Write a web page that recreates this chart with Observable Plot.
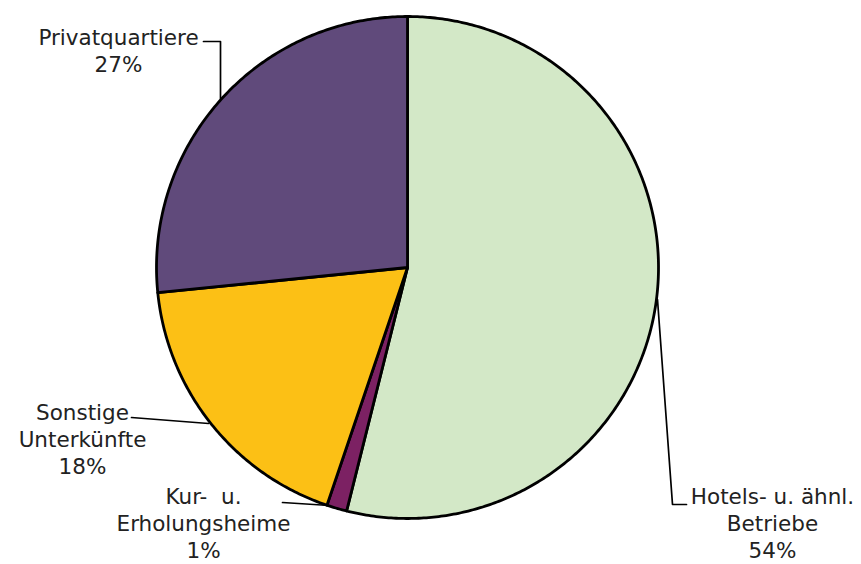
<!DOCTYPE html>
<html>
<head>
<meta charset="utf-8">
<script src="https://cdn.jsdelivr.net/npm/d3@7"></script>
<script src="https://cdn.jsdelivr.net/npm/@observablehq/plot@0.6"></script>
<style>
  html, body { margin: 0; padding: 0; background: #fff; }
  #chart svg { display: block; }
</style>
</head>
<body>
<div id="chart"></div>
<script>
// Data
const categories = ["Hotels- u. ähnl.\nBetriebe", "Kur-\u00a0 u.\nErholungsheime", "Sonstige\nUnterkünfte", "Privatquartiere"];
const keys = ["Hotels", "Kur", "Sonstige", "Privat"];
const values = [53.9, 1.3, 18.2, 26.6];
const colors = ["#d3e8c7", "#7c2163", "#fcc015", "#604a7b"];

// Layout (pixels)
const W = 861, H = 564, CX = 407, CY = 267, R = 251;
const toX = px => (px - CX) / R;
const toY = py => (py - CY) / R;

const labelPos = {
  Hotels:   {x: 772, y: 522},
  Kur:      {x: 203, y: 522},
  Sonstige: {x: 82,  y: 438},
  Privat:   {x: 118, y: 49}
};
const leaders = {
  Privat:   [[203, 41], [220, 41], [220, 98]],
  Hotels:   [[657, 299], [672, 504], [686, 504]],
  Sonstige: [[131, 417], [208, 423]],
  Kur:      [[282, 502], [329, 505]]
};

// Slice geometry via d3.pie
const pie = d3.pie().sort(null).value(d => d.value).startAngle(0).endAngle(2 * Math.PI);
const arcs = pie(keys.map((k, i) => ({key: k, value: values[i]})));
const slicePts = [];
arcs.forEach(a => {
  slicePts.push({key: a.data.key, x: 0, y: 0});
  const n = Math.max(4, Math.ceil((a.endAngle - a.startAngle) / 0.01));
  for (let j = 0; j <= n; j++) {
    const t = a.startAngle + (a.endAngle - a.startAngle) * j / n;
    slicePts.push({key: a.data.key, x: Math.sin(t), y: -Math.cos(t)});
  }
});

const total = d3.sum(values);
const labels = keys.map((k, i) => ({
  key: k,
  x: toX(labelPos[k].x),
  y: toY(labelPos[k].y),
  text: categories[i] + "\n" + Math.round(values[i] / total * 100) + "%"
}));
const leaderPts = [];
keys.forEach(k => leaders[k].forEach(p => leaderPts.push({key: k, x: toX(p[0]), y: toY(p[1])})));

const chart = Plot.plot({
  width: W,
  height: H,
  margin: 0,
  x: {domain: [toX(0), toX(W)], range: [0, W], axis: null},
  y: {domain: [toY(0), toY(H)], range: [0, H], axis: null},
  color: {domain: keys, range: colors},
  marks: [
    Plot.line(leaderPts, {x: "x", y: "y", z: "key", stroke: "#000", strokeWidth: 1.7}),
    Plot.line(slicePts, {x: "x", y: "y", z: "key", fill: "key", stroke: "#000", strokeWidth: 2.8, strokeLinejoin: "round", curve: "linear-closed"}),
    Plot.text(labels, {x: "x", y: "y", text: "text", textAnchor: "middle", lineAnchor: "middle", lineHeight: 1.26,
      fontSize: 21.5, fontFamily: "DejaVu Sans", fill: "#222"})
  ]
});
document.getElementById("chart").appendChild(chart);
</script>
</body>
</html>
